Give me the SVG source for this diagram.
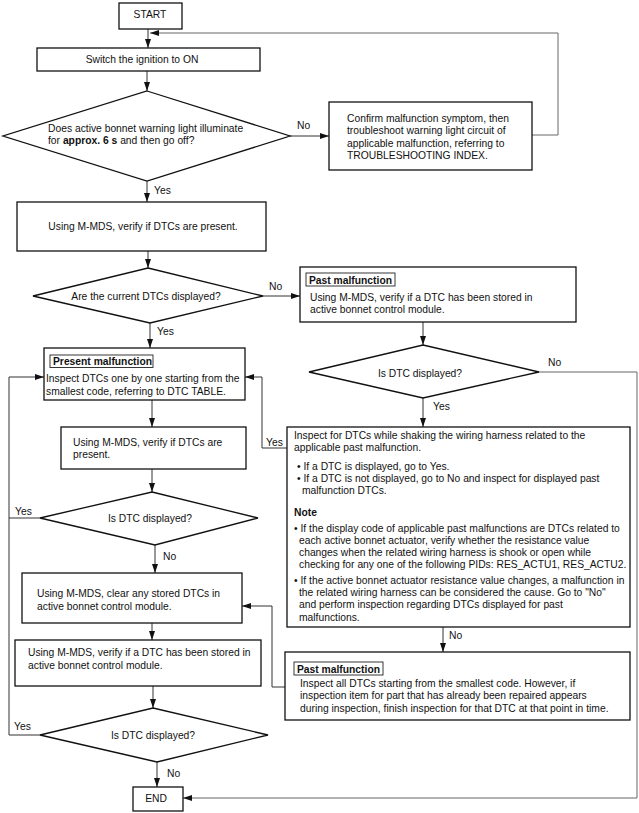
<svg xmlns="http://www.w3.org/2000/svg" width="639" height="813" viewBox="0 0 639 813">
<style>
.b{fill:#fff;stroke:#111;stroke-width:1.3}
.lb{fill:#fff;stroke:#222;stroke-width:0.9}
.c{fill:none;stroke:#333;stroke-width:1}
.g{fill:none;stroke:#666;stroke-width:1}
text{font-family:"Liberation Sans",Arial,sans-serif;font-size:10.3px;fill:#111}
.m{text-anchor:middle}
.bd{font-weight:bold}
</style>
<defs>
<marker id="a" markerWidth="9" markerHeight="6" refX="9" refY="3" orient="auto" markerUnits="userSpaceOnUse">
<path d="M0,0 L9,3 L0,6 z" fill="#111"/>
</marker>
</defs>
<rect width="639" height="813" fill="#fff"/>
<g id="connectors">
<line class="c" x1="148" y1="29" x2="148" y2="48" marker-end="url(#a)"/>
<polyline class="g" points="532,135 558,135 558,33 150,33" marker-end="url(#a)"/>
<line class="c" x1="147" y1="71" x2="147" y2="91" marker-end="url(#a)"/>
<line class="c" x1="290" y1="136" x2="329" y2="136" marker-end="url(#a)"/>
<line class="c" x1="147" y1="181" x2="147" y2="202" marker-end="url(#a)"/>
<line class="c" x1="148" y1="251" x2="148" y2="268" marker-end="url(#a)"/>
<line class="c" x1="263" y1="296" x2="300" y2="296" marker-end="url(#a)"/>
<line class="c" x1="150" y1="323" x2="150" y2="348" marker-end="url(#a)"/>
<line class="c" x1="152" y1="400" x2="152" y2="427" marker-end="url(#a)"/>
<line class="c" x1="152" y1="469" x2="152" y2="492" marker-end="url(#a)"/>
<line class="c" x1="40" y1="518" x2="9" y2="518"/>
<polyline class="c" points="40,735 9,735 9,377 44,377" marker-end="url(#a)"/>
<line class="c" x1="155" y1="545" x2="155" y2="573" marker-end="url(#a)"/>
<line class="c" x1="152" y1="623" x2="152" y2="640" marker-end="url(#a)"/>
<line class="c" x1="153" y1="686" x2="153" y2="708" marker-end="url(#a)"/>
<line class="c" x1="157" y1="762" x2="157" y2="787" marker-end="url(#a)"/>
<line class="c" x1="423" y1="322" x2="423" y2="345" marker-end="url(#a)"/>
<line class="c" x1="423" y1="398" x2="423" y2="427" marker-end="url(#a)"/>
<polyline class="g" points="539,372 637,372 637,798 183,798" marker-end="url(#a)"/>
<polyline class="c" points="287,448 262,448 262,377 245,377" marker-end="url(#a)"/>
<line class="c" x1="443" y1="627" x2="443" y2="652" marker-end="url(#a)"/>
<polyline class="c" points="285,687 272,687 272,606 242,606" marker-end="url(#a)"/>
<text x="297" y="129">No</text>
<text x="154" y="194">Yes</text>
<text x="269" y="290">No</text>
<text x="157" y="335">Yes</text>
<text x="548" y="366">No</text>
<text x="433" y="410">Yes</text>
<text x="266" y="446">Yes</text>
<text x="15" y="515">Yes</text>
<text x="163" y="560">No</text>
<text x="449" y="639">No</text>
<text x="14" y="730">Yes</text>
<text x="167" y="777">No</text>
</g>
<g id="start">
<rect class="b" x="119" y="3" width="63" height="26"/>
<text class="m" x="150" y="17.5">START</text>
</g>
<g id="ignition">
<rect class="b" x="37" y="48" width="223" height="23"/>
<text class="m" x="142" y="63">Switch the ignition to ON</text>
</g>
<g id="d1">
<polygon class="b" points="147,91 290,136 147,181 3,136"/>
<text x="48" y="132">Does active bonnet warning light illuminate</text>
<text x="48" y="144">for <tspan class="bd">approx. 6 s</tspan> and then go off?</text>
</g>
<g id="confirm">
<rect class="b" x="329" y="102" width="203" height="68"/>
<text x="347" y="122">Confirm malfunction symptom, then</text>
<text x="347" y="134">troubleshoot warning light circuit of</text>
<text x="347" y="146.5">applicable malfunction, referring to</text>
<text x="347" y="159">TROUBLESHOOTING INDEX.</text>
</g>
<g id="verify1">
<rect class="b" x="17" y="202" width="249" height="49"/>
<text class="m" x="143" y="230">Using M-MDS, verify if DTCs are present.</text>
</g>
<g id="d2">
<polygon class="b" points="148,268 263,296 150,323 33,296"/>
<text class="m" x="146" y="300">Are the current DTCs displayed?</text>
</g>
<g id="past1">
<rect class="b" x="300" y="267" width="276" height="55"/>
<rect class="lb" x="306" y="273" width="89" height="13"/>
<text class="bd" x="309" y="283.5">Past malfunction</text>
<text x="310" y="301">Using M-MDS, verify if a DTC has been stored in</text>
<text x="310" y="313">active bonnet control module.</text>
</g>
<g id="d3">
<polygon class="b" points="423,345 539,372 423,398 309,372"/>
<text class="m" x="420" y="377">Is DTC displayed?</text>
</g>
<g id="present">
<rect class="b" x="44" y="348" width="201" height="52"/>
<rect class="lb" x="50" y="355" width="103" height="12.5"/>
<text class="bd" x="53" y="364.5">Present malfunction</text>
<text x="46" y="382">Inspect DTCs one by one starting from the</text>
<text x="46" y="395">smallest code, referring to DTC TABLE.</text>
</g>
<g id="verify2">
<rect class="b" x="61" y="427" width="185" height="42"/>
<text x="73" y="446">Using M-MDS, verify if DTCs are</text>
<text x="73" y="458">present.</text>
</g>
<g id="shake">
<rect class="b" x="287" y="427" width="343" height="200"/>
<text x="294" y="439">Inspect for DTCs while shaking the wiring harness related to the</text>
<text x="294" y="451">applicable past malfunction.</text>
<text x="297" y="470">• If a DTC is displayed, go to Yes.</text>
<text x="297" y="482">• If a DTC is not displayed, go to No and inspect for displayed past</text>
<text x="302" y="494">malfunction DTCs.</text>
<text class="bd" x="294" y="516">Note</text>
<text x="294" y="532">• If the display code of applicable past malfunctions are DTCs related to</text>
<text x="299" y="544">each active bonnet actuator, verify whether the resistance value</text>
<text x="299" y="556">changes when the related wiring harness is shook or open while</text>
<text x="299" y="568">checking for any one of the following PIDs: RES_ACTU1, RES_ACTU2.</text>
<text x="294" y="584">• If the active bonnet actuator resistance value changes, a malfunction in</text>
<text x="299" y="596">the related wiring harness can be considered the cause. Go to  "No"</text>
<text x="299" y="608">and perform inspection regarding DTCs displayed for past</text>
<text x="299" y="621">malfunctions.</text>
</g>
<g id="d4">
<polygon class="b" points="152,492 258,518 155,545 40,518"/>
<text class="m" x="150" y="522">Is DTC displayed?</text>
</g>
<g id="clear">
<rect class="b" x="22" y="573" width="220" height="50"/>
<text x="37" y="597">Using M-MDS, clear any stored DTCs in</text>
<text x="37" y="610">active bonnet control module.</text>
</g>
<g id="past2">
<rect class="b" x="285" y="652" width="345" height="68"/>
<rect class="lb" x="294" y="662" width="89" height="13"/>
<text class="bd" x="297" y="672.5">Past malfunction</text>
<text x="300" y="687">Inspect all DTCs starting from the smallest code. However, if</text>
<text x="300" y="699">inspection item for part that has already been repaired appears</text>
<text x="300" y="712">during inspection, finish inspection for that DTC at that point in time.</text>
</g>
<g id="verify3">
<rect class="b" x="15" y="640" width="246" height="46"/>
<text x="28" y="656">Using M-MDS, verify if a DTC has been stored in</text>
<text x="28" y="669">active bonnet control module.</text>
</g>
<g id="d7">
<polygon class="b" points="153,708 268,735 157,762 40,735"/>
<text class="m" x="153" y="739">Is DTC displayed?</text>
</g>
<g id="end">
<rect class="b" x="133" y="787" width="50" height="24"/>
<text class="m" x="156" y="802">END</text>
</g>
</svg>
